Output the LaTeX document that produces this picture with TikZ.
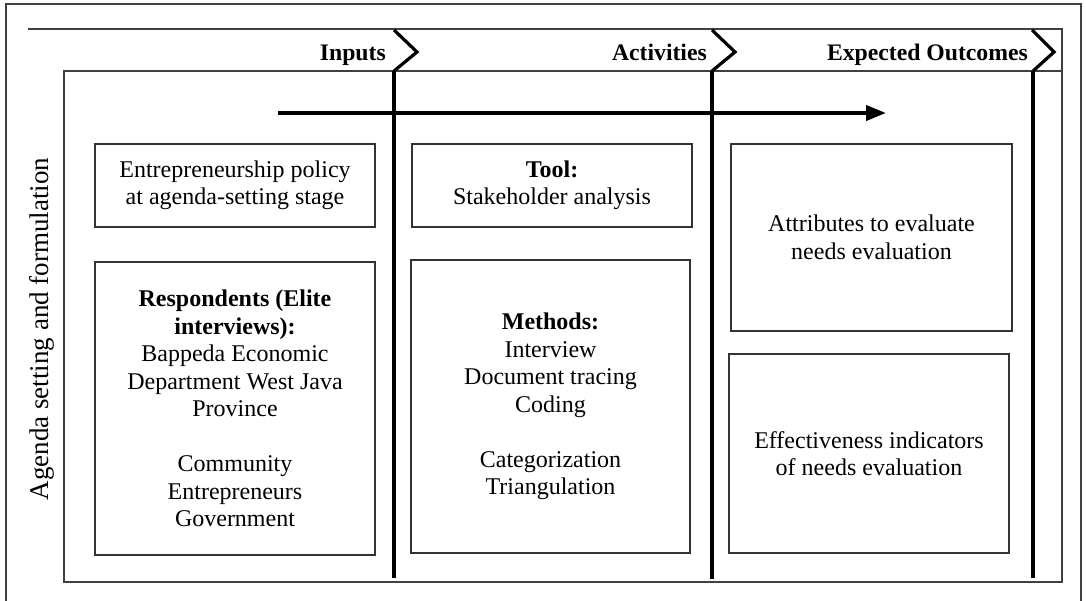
\documentclass[tikz,border=0pt]{standalone}
\usepackage{fontspec}
\setmainfont{Liberation Serif}
\usetikzlibrary{arrows.meta}
\begin{document}
\begin{tikzpicture}[x=1pt,y=-1pt,
  frameline/.style={draw=black!75,line width=1.1pt},
  stagebar/.style={line width=4pt,line cap=butt},
  chevron/.style={line width=3.2pt,line join=miter},
  boxnode/.style={draw=black!80,line width=1.1pt,rectangle,align=center,
    inner sep=0pt,font=\fontsize{24}{27.5}\selectfont},
  headnode/.style={anchor=base east,inner sep=0pt,font=\fontsize{23.7}{27.5}\selectfont\bfseries}]
\useasboundingbox (0,0) rectangle (1086,600);

% outer frame (its bottom edge lies below the page)
\draw[frameline] (6,640) -- (6,4) -- (1081,4) -- (1081,640);
% header strip and main panel
\draw[frameline] (28,29) -- (1062,29) -- (1062,582) -- (64,582) -- (64,71) -- (1062,71);

% stage headings
\node[headnode] (hin) at (386,60) {Inputs};
\node[headnode] (hact) at (707,60) {Activities};
\node[headnode] (hout) at (1028,60) {Expected Outcomes};

% chevrons with their stage separators
\coordinate (c1a) at (394,30); \coordinate (c1b) at (417,52); \coordinate (c1c) at (394,71); \coordinate (c1d) at (394,578);
\coordinate (c2a) at (712,30); \coordinate (c2b) at (735,52); \coordinate (c2c) at (712,71); \coordinate (c2d) at (712,579);
\coordinate (c3a) at (1032,30); \coordinate (c3b) at (1054,52); \coordinate (c3c) at (1033,71); \coordinate (c3d) at (1033,578);
\draw[chevron] (c1a) -- (c1b) -- (c1c);
\draw[chevron] (c2a) -- (c2b) -- (c2c);
\draw[chevron] (c3a) -- (c3b) -- (c3c);
\draw[stagebar] (c1c) -- (c1d);
\draw[stagebar] (c2c) -- (c2d);
\draw[stagebar] (c3c) -- (c3d);

% process arrow
\coordinate (ps) at (278,113);
\coordinate (pe) at (886,113);
\draw[line width=4pt,-{Triangle[length=20pt,width=15pt]}] (ps) -- (pe);

% side label
\node[rotate=90,inner sep=0pt,font=\fontsize{27}{30}\selectfont] (side) at (42,329) {Agenda setting and formulation};

% inputs
\node[boxnode,minimum width=280pt,minimum height=83pt] (policy) at (235,185.5)
  {Entrepreneurship policy\\at agenda-setting stage};
\node[boxnode,minimum width=280pt,minimum height=293pt] (resp) at (235,408.5)
  {\textbf{Respondents (Elite}\\\textbf{interviews):}\\Bappeda Economic\\Department West Java\\Province\\[27.5pt]Community\\Entrepreneurs\\Government};

% activities
\node[boxnode,minimum width=280pt,minimum height=83pt] (tool) at (552,185.5)
  {\textbf{Tool:}\\Stakeholder analysis};
\node[boxnode,minimum width=279pt,minimum height=293pt] (meth) at (550.5,406.5)
  {\textbf{Methods:}\\Interview\\Document tracing\\Coding\\[27.5pt]Categorization\\Triangulation};

% expected outcomes
\node[boxnode,minimum width=281pt,minimum height=187pt] (attr) at (871.5,237.5)
  {Attributes to evaluate\\needs evaluation};
\node[boxnode,minimum width=280pt,minimum height=199pt] (eff) at (869,453.5)
  {Effectiveness indicators\\of needs evaluation};
\end{tikzpicture}
\end{document}
